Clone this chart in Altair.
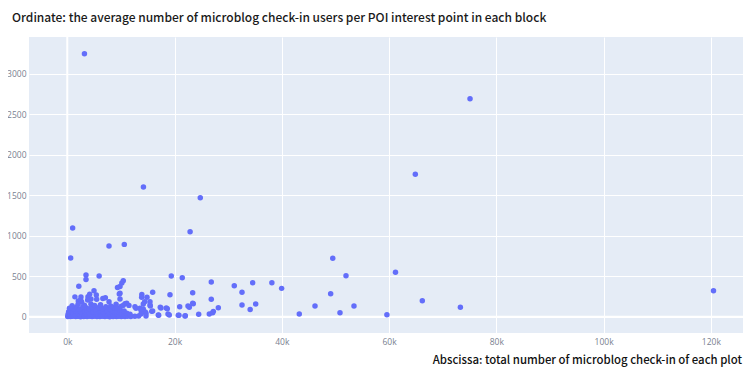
import altair as alt
import pandas as pd

title_top = "Ordinate: the average number of microblog check-in users per POI interest point in each block"
title_bottom = "Abscissa: total number of microblog check-in of each plot"

x_ticks = [0, 20000, 40000, 60000, 80000, 100000, 120000]
y_ticks = [0, 500, 1000, 1500, 2000, 2500, 3000]

# scattered / outlying blocks
out_x = [3200, 14200, 24800, 1000, 22900, 64900, 75100, 120500,
         49500, 51970, 61200, 34570, 38150, 39970, 49110, 35130, 34100, 46190, 53460, 66200, 73300, 43260, 50850, 59600,
         19390, 21440, 26850, 31140, 32580, 23380, 15920, 19150, 26850, 23490, 32580, 28160, 22750, 20960, 18650, 17470,
         27230, 26480, 24500, 21950, 20830, 18780, 17040, 15920, 15420,
         630, 7780, 10630, 3490, 3490, 5940, 10440, 10170, 9830, 9360, 2150, 4980, 4180, 1420, 2550, 2500, 6630, 7100,
         5410, 9830, 9700, 4420, 3860, 13900, 14860, 14430, 15480, 10760, 11500, 12810, 14170, 14540, 17340, 18460,
         22510, 23380, 16970, 19020, 20700, 22010, 27110, 2050, 2680, 3800, 7780, 11080, 12620, 13560, 14170, 9830, 5480,
         13870, 14170, 13740, 14680, 14680, 13740, 15740, 15420]
out_y = [3245, 1600, 1470, 1095, 1050, 1758, 2690, 320,
         721, 506, 548, 420, 420, 350, 284, 157, 88, 132, 132, 198, 116, 33, 49, 25,
         502, 482, 428, 383, 301, 296, 301, 272, 215, 160, 144, 111, 116, 124, 99, 107,
         66, 33, 30, 9, 17, 33, 17, 70, 185,
         725, 873, 893, 515, 460, 504, 445, 415, 372, 360, 375, 320, 276, 245, 243, 206, 225, 233,
         268, 218, 280, 218, 247, 274, 239, 185, 132, 160, 140, 103, 95, 58, 116, 107,
         132, 165, 21, 21, 17, 12, 49, 194, 181, 206, 185, 165, 123, 104, 62, 289, 215,
         240, 157, 83, 42, 9, 33, 66, 144]

# dense cluster of small blocks near the origin
row_a_x = [80, 350, 620, 950, 1240, 1580, 1870, 2150, 2490, 2760, 3080, 3350, 3690, 3960, 4270, 4620, 4880, 5190,
           5530, 5820, 6090, 6440, 6710, 7020, 7350, 7630, 7920, 8260, 8540, 8830, 9170, 9460, 9720, 10050, 10380,
           10760, 11240, 11850, 12600, 13300]
row_a_y = [4, 8, 2, 6, 10, 3, 7, 5, 1, 9, 4, 6, 2, 8, 5, 3, 7, 10, 4, 6, 2, 9, 5, 3, 8, 6, 1, 7, 4, 9, 3, 5, 8, 2, 6,
           4, 7, 3, 5, 8]
row_b_x = [150, 480, 820, 1150, 1470, 1790, 2100, 2430, 2750, 3060, 3400, 3720, 4050, 4380, 4700, 5030, 5350, 5690,
           6010, 6330, 6660, 6980, 7310, 7640, 7960, 8290, 8610, 8950, 9280, 9600, 9930, 10280, 10650, 11100, 11700]
row_b_y = [32, 27, 41, 35, 29, 44, 38, 26, 40, 33, 45, 30, 37, 42, 28, 36, 43, 31, 39, 25, 34, 46, 29, 38, 33, 41, 27,
           36, 44, 30, 39, 35, 28, 42, 31]
row_c_x = [250, 650, 1050, 1400, 1800, 2200, 2550, 2950, 3300, 3700, 4050, 4450, 4800, 5200, 5550, 5950, 6300, 6700,
           7100, 7450, 7850, 8250, 8600, 9000, 9350, 9750, 10150, 10600]
row_c_y = [62, 71, 58, 77, 66, 80, 60, 73, 68, 79, 55, 70, 64, 82, 59, 74, 67, 61, 76, 69, 57, 78, 65, 72, 63, 81, 58,
           70]
row_d_x = [400, 1100, 1700, 2300, 2900, 3500, 4100, 4700, 5300, 5900, 6500, 7200, 7900, 8600, 9300, 10000]
row_d_y = [105, 96, 118, 92, 124, 110, 99, 120, 95, 113, 102, 122, 97, 115, 108, 125]
row_e_x = [900, 2000, 3200, 4400, 5100, 6200, 8100, 9100, 10400]
row_e_y = [135, 150, 142, 158, 138, 147, 132, 155, 140]

xs = out_x + row_a_x + row_b_x + row_c_x + row_d_x + row_e_x
ys = out_y + row_a_y + row_b_y + row_c_y + row_d_y + row_e_y
df = pd.DataFrame({"total": xs, "avg": ys})

FONT = "Noto Sans CJK SC"
LABEL_FONT = "Open Sans"

xscale = alt.Scale(domain=[-7140, 126000], nice=False, zero=False)
yscale = alt.Scale(domain=[-201, 3453], nice=False, zero=False)

points = alt.Chart(df).mark_circle(size=30, color="#636EFA", opacity=1).encode(
    x=alt.X("total:Q", scale=xscale,
            axis=alt.Axis(values=x_ticks, format="~s", title=None, labelPadding=4)),
    y=alt.Y("avg:Q", scale=yscale,
            axis=alt.Axis(values=y_ticks, format="d", title=None, labelPadding=3)),
)

zx = alt.Chart(pd.DataFrame({"v": [0]})).mark_rule(color="white", strokeWidth=2).encode(
    x=alt.X("v:Q", scale=xscale))
zy = alt.Chart(pd.DataFrame({"v": [0]})).mark_rule(color="white", strokeWidth=2).encode(
    y=alt.Y("v:Q", scale=yscale))

t1 = alt.Chart(pd.DataFrame({"t": [title_top]})).mark_text(
    align="left", baseline="middle", font=FONT, fontSize=12, fontWeight=500, color="#1a1a1a"
).encode(x=alt.value(-17), y=alt.value(-19), text="t:N")

t2 = alt.Chart(pd.DataFrame({"t": [title_bottom]})).mark_text(
    align="right", baseline="middle", font=FONT, fontSize=11.4, fontWeight=500, color="#111111"
).encode(x=alt.value(713), y=alt.value(324), text="t:N")

chart = alt.layer(zx, zy, points, t1, t2).properties(
    width=714, height=296,
    autosize=alt.AutoSizeParams(type="none"),
    padding={"left": 21, "top": 29, "right": 0, "bottom": 36},
    background="white",
).configure_view(fill="#E5ECF6", strokeWidth=0).configure_axis(
    domain=False, ticks=False, gridColor="white", gridWidth=1,
    labelColor="#7a8190", labelFont=LABEL_FONT, labelFontSize=8.5,
)

chart.save("out.html", embed_options={"renderer": "svg", "actions": False})
